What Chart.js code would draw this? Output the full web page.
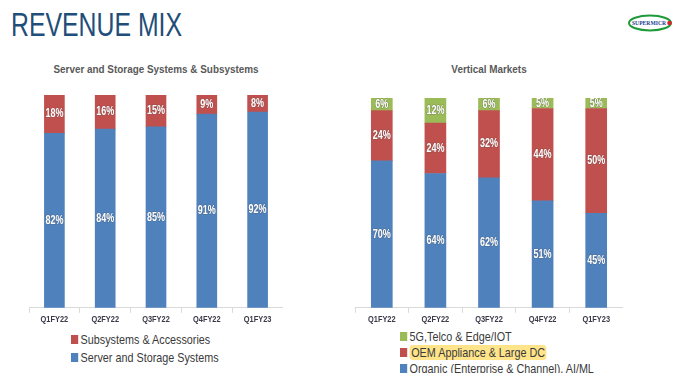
<!DOCTYPE html>
<html>
<head>
<meta charset="utf-8">
<script src="https://cdn.jsdelivr.net/npm/chart.js@4"></script>
<style>
  body { margin: 0; width: 679px; height: 373px; background: #fff; position: relative; overflow: hidden;
         font-family: "Liberation Sans", Arial, sans-serif; }
  .title { position: absolute; left: 11px; top: 5px; font-size: 34px; color: #1f4e79; transform: scaleX(0.73); transform-origin: left top; white-space: nowrap; }
  .sub { position: absolute; top: 63px; font-size: 11.5px; font-weight: bold; color: #595959; text-align: center; transform: scaleX(0.86); white-space: nowrap; }
  .box { position: absolute; }
  .legend { position: absolute; font-size: 13.5px; color: #3a3a3a; transform: scaleX(0.8); transform-origin: left top; }
  .legend div { height: 16px; line-height: 16px; white-space: nowrap; }
  .legend span.sw { display: inline-block; width: 9px; height: 9px; margin-right: 3px; vertical-align: 0px; }
  .hl { background: #ffe48a; border-radius: 4px; padding: 0 2px; }
</style>
</head>
<body>
<div class="title">REVENUE MIX</div>
<svg style="position:absolute;left:625px;top:12px" width="52" height="22" viewBox="0 0 52 22">
  <ellipse cx="25" cy="11" rx="21" ry="7.5" fill="none" stroke="#1f9a3a" stroke-width="2"/>
  <text x="24" y="13.3" font-size="6.6" font-family="Liberation Serif, serif" font-weight="bold" fill="#1d3f8f" text-anchor="middle" textLength="34" lengthAdjust="spacingAndGlyphs">SUPERMICR</text>
  <circle cx="44.5" cy="11" r="2.3" fill="#d7262b"/>
</svg>

<div class="sub" style="left:29px;width:254px">Server and Storage Systems &amp; Subsystems</div>
<div class="sub" style="left:355px;width:268px">Vertical Markets</div>

<div class="box" style="left:29px;top:95px;width:254px;height:232px"><canvas id="left"></canvas></div>
<div class="box" style="left:355px;top:98px;width:268px;height:229px"><canvas id="right"></canvas></div>

<div class="legend" style="left:71px;top:332px">
  <div><span class="sw" style="background:#c0504d"></span>Subsystems &amp; Accessories</div>
  <div style="margin-top:2px"><span class="sw" style="background:#4f81bd"></span>Server and Storage Systems</div>
</div>
<div class="legend" style="left:400px;top:329px">
  <div><span class="sw" style="background:#9bbb59"></span>5G,Telco &amp; Edge/IOT</div>
  <div><span class="sw" style="background:#c0504d"></span><span class="hl">OEM Appliance &amp; Large DC</span></div>
  <div><span class="sw" style="background:#4f81bd"></span>Organic (Enterprise &amp; Channel), AI/ML</div>
</div>

<script>
const quarters = ["Q1FY22", "Q2FY22", "Q3FY22", "Q4FY22", "Q1FY23"];

const serverSystems = [82, 84, 85, 91, 92];
const subsystems = [18, 16, 15, 9, 8];

const organic = [70, 64, 62, 51, 45];
const oemLargeDC = [24, 24, 32, 44, 50];
const telcoEdge = [6, 12, 6, 5, 5];

const BLUE = "#4f81bd", RED = "#c0504d", GREEN = "#9bbb59";
const FONT = "'Liberation Sans', Arial, sans-serif";

// narrow text: the original uses a condensed face, which isn't installed
function narrowText(ctx, txt, x, y, sx) {
    ctx.save();
    ctx.translate(x, y);
    ctx.scale(sx, 1);
    ctx.fillText(txt, 0, 0);
    ctx.restore();
}

const segLabels = {
    id: "segLabels",
    afterDatasetsDraw(chart) {
        const ctx = chart.ctx;
        ctx.save();
        ctx.font = "bold 12px " + FONT;
        ctx.textAlign = "center";
        ctx.textBaseline = "middle";
        chart.data.datasets.forEach((ds, i) => {
            const meta = chart.getDatasetMeta(i);
            meta.data.forEach((bar, j) => {
                const y = (bar.y + bar.base) / 2;
                ctx.save();
                ctx.translate(bar.x, y);
                ctx.scale(0.75, 1);
                ctx.lineWidth = 1.2;
                ctx.strokeStyle = "rgba(80,80,80,0.4)";
                ctx.strokeText(ds.data[j] + "%", 0, 0);
                ctx.fillStyle = "#ffffff";
                ctx.fillText(ds.data[j] + "%", 0, 0);
                ctx.restore();
            });
        });
        // category labels, drawn condensed at the scale's tick positions
        const xs = chart.scales.x;
        ctx.font = "bold 9.5px " + FONT;
        ctx.fillStyle = "#3a3a4a";
        ctx.textBaseline = "top";
        chart.data.labels.forEach((lab, j) => {
            narrowText(ctx, lab, xs.getPixelForTick(j), xs.top + 7, 0.78);
        });
        ctx.restore();
    }
};

function makeChart(id, datasets, thickness) {
    return new Chart(document.getElementById(id), {
        type: "bar",
        data: { labels: quarters, datasets: datasets },
        options: {
            responsive: true,
            maintainAspectRatio: false,
            animation: false,
            layout: { padding: 0 },
            plugins: { legend: { display: false }, tooltip: { enabled: false } },
            datasets: { bar: { barThickness: thickness, borderWidth: 0 } },
            scales: {
                x: {
                    stacked: true,
                    grid: { drawOnChartArea: false, drawTicks: true, tickLength: 5, color: "#d9d9d9" },
                    border: { color: "#d9d9d9" },
                    ticks: { color: "rgba(0,0,0,0)", font: { family: FONT, size: 8.5, weight: "bold" }, padding: 2 }
                },
                y: { stacked: true, display: false, min: 0, max: 100 }
            }
        },
        plugins: [segLabels]
    });
}

makeChart("left", [
    { label: "Server and Storage Systems", data: serverSystems, backgroundColor: BLUE },
    { label: "Subsystems & Accessories", data: subsystems, backgroundColor: RED }
], 20);

makeChart("right", [
    { label: "Organic (Enterprise & Channel), AI/ML", data: organic, backgroundColor: BLUE },
    { label: "OEM Appliance & Large DC", data: oemLargeDC, backgroundColor: RED },
    { label: "5G,Telco & Edge/IOT", data: telcoEdge, backgroundColor: GREEN }
], 21);
</script>
</body>
</html>
